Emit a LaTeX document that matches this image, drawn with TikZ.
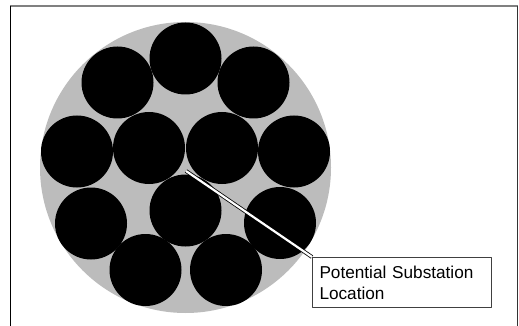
\documentclass[tikz,border=0pt]{standalone}
\usepackage{fontspec}
\setmainfont{Liberation Sans}
\usetikzlibrary{positioning}

\definecolor{sheathgray}{RGB}{188,188,188}
\definecolor{framegray}{RGB}{128,128,128}

\begin{document}
\begin{tikzpicture}[x=1pt, y=-1pt, line join=round,
    strand/.style={fill=black},
    calloutbox/.style={draw=black!75, line width=1pt, fill=white, anchor=north west,
      align=left, text width=165pt, inner xsep=7pt, minimum height=50pt,
      font=\fontsize{17.2pt}{21pt}\selectfont}]
  \useasboundingbox (0,0) rectangle (519,326);

  % Window frame (open at the bottom)
  \draw[framegray, line width=1.2pt] (10,6) -- (517.5,6);
  \draw[black, line width=1.2pt] (10.5,6) -- (10.5,326);
  \draw[black!80, line width=1.2pt] (517.5,6) -- (517.5,326);

  % Outer sheath
  \fill[sheathgray] (185.5,167.5) circle (145.5);

  % Strands, top to bottom
  \fill[strand] (185.5,58.5) circle (36);
  \fill[strand] (117.5,82.5) circle (36);
  \fill[strand] (253.5,82.5) circle (36);
  % second row
  \fill[strand] (77,151.5) circle (36);
  \fill[strand] (149,148) circle (36);
  \fill[strand] (222,148) circle (36);
  \fill[strand] (294,151.5) circle (36);
  % third row
  \fill[strand] (91,223.5) circle (36);
  \fill[strand] (185.5,210.5) circle (36);
  \fill[strand] (280,223) circle (36);
  % bottom row
  \fill[strand] (145.5,270) circle (36);
  \fill[strand] (226,270) circle (36);

  % Callout to the gap between strands
  \coordinate (sub) at (186,171);
  \node[calloutbox] (callout) at (312,257) {Potential Substation\\Location};
  \draw[line width=0.8pt, double=white, double distance=2.2pt] (sub) -- (callout.north west);
\end{tikzpicture}
\end{document}
